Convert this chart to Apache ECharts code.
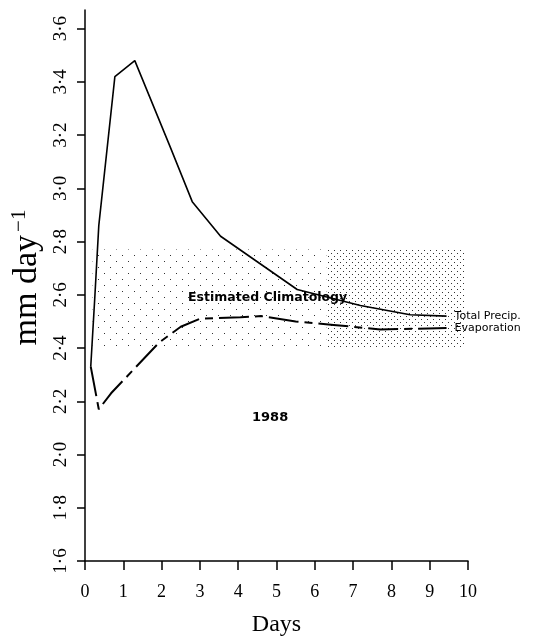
<!DOCTYPE html>
<html><head><meta charset="utf-8">
<script src="https://cdn.jsdelivr.net/npm/echarts@6/dist/echarts.min.js"></script>
<style>html,body{margin:0;padding:0;background:#fff}#c{width:552px;height:642px}</style>
</head><body><div id="c"></div>
<script>
// ---- data ----
const precipDays = [0.15, 0.26, 0.36, 0.78, 1.30, 2.24, 2.80, 3.54, 5.54, 7.19, 8.49, 9.44];
const precipVals = [2.33, 2.60, 2.86, 3.42, 3.48, 3.15, 2.95, 2.82, 2.62, 2.56, 2.525, 2.52];
const evapDays = [0.15, 0.36, 0.68, 1.93, 2.50, 3.00, 4.06, 4.60, 5.50, 6.49, 7.71, 9.44];
const evapVals = [2.33, 2.17, 2.23, 2.42, 2.48, 2.51, 2.516, 2.52, 2.50, 2.487, 2.47, 2.475];
const bandDays = [0.2, 6.3, 9.9];   // climatology band: start, density change, end
const bandRange = [2.40, 2.77];     // climatology band low/high (mm/day)
const xTicks = [0, 10, 1];          // min, max, interval
const yTicks = [1.6, 3.6, 0.2];
const yTop = 3.67;
const labels = { precip: 'Total Precip.', evap: 'Evaporation', clim: 'Estimated Climatology', year: '1988' };

function pattern(size, dots) {
  const c = document.createElement('canvas');
  c.width = c.height = size;
  const ctx = c.getContext('2d');
  ctx.fillStyle = '#333';
  dots.forEach(d => ctx.fillRect(d[0], d[1], 1, 1));
  return c;
}
const sparse = pattern(12, [[2, 3], [8, 9]]);
const dense = pattern(6, [[1, 1], [4, 4]]);

const chart = echarts.init(document.getElementById('c'), null, { renderer: 'canvas' });
const serif = '"Liberation Serif", "DejaVu Serif", serif';
const sans = '"DejaVu Sans", "Liberation Sans", sans-serif';

chart.setOption({
  animation: false,
  backgroundColor: '#fff',
  grid: { left: 85, right: 84, top: 10, bottom: 81, containLabel: false, outerBoundsMode: 'none' },
  xAxis: {
    type: 'value', min: xTicks[0], max: xTicks[1], interval: xTicks[2],
    name: 'Days', nameLocation: 'middle', nameGap: 52,
    nameTextStyle: { fontFamily: serif, fontSize: 24, color: '#000' },
    axisLine: { lineStyle: { color: '#000', width: 1.5 } },
    axisTick: { length: 9, lineStyle: { color: '#000', width: 1.5 } },
    axisLabel: { margin: 22, fontFamily: serif, fontSize: 18, color: '#000' },
    splitLine: { show: false }
  },
  yAxis: {
    type: 'value', min: yTicks[0], max: yTop, interval: yTicks[2],
    name: 'mm day{s|−1}', nameLocation: 'middle', nameGap: 38, nameRotate: 90,
    nameTextStyle: { fontFamily: serif, fontSize: 34, color: '#000', padding: [0, 0, 0, 16],
      rich: { s: { fontFamily: serif, fontSize: 21, verticalAlign: 'top', padding: [0, 0, 16, 3], color: '#000' } } },
    axisLine: { lineStyle: { color: '#000', width: 1.5 } },
    axisTick: { length: 8, lineStyle: { color: '#000', width: 1.5 } },
    axisLabel: { margin: 14, rotate: 90, fontFamily: serif, fontSize: 19, color: '#000',
      showMaxLabel: false,
      formatter: v => (v > yTicks[1] + 1e-6) ? '' : v.toFixed(1).replace('.', '·') },
    splitLine: { show: false }
  },
  series: [
    {
      name: labels.precip, type: 'line', symbol: 'none',
      data: precipDays.map((d, i) => [d, precipVals[i]]),
      lineStyle: { color: '#000', width: 1.6 },
      endLabel: { show: true, formatter: labels.precip, distance: 8, fontFamily: sans, fontSize: 11, color: '#000' },
      markArea: {
        silent: true,
        data: [
          [{ xAxis: bandDays[0], yAxis: bandRange[0], itemStyle: { color: { image: sparse, repeat: 'repeat' } } },
           { xAxis: bandDays[1], yAxis: bandRange[1] }],
          [{ xAxis: bandDays[1], yAxis: bandRange[0], itemStyle: { color: { image: dense, repeat: 'repeat' } } },
           { xAxis: bandDays[2], yAxis: bandRange[1] }]
        ]
      },
      z: 3
    },
    {
      name: labels.evap, type: 'line', symbol: 'none',
      data: evapDays.map((d, i) => [d, evapVals[i]]),
      lineStyle: { color: '#000', width: 2, type: [30, 6, 8, 6] },
      endLabel: { show: true, formatter: labels.evap, distance: 8, fontFamily: sans, fontSize: 11, color: '#000' },
      z: 3
    }
  ],
  graphic: [
    { type: 'text', left: 188, top: 291, style: { text: labels.clim, fontFamily: sans, fontSize: 12.5, fontWeight: 'bold', fill: '#000' } },
    { type: 'text', left: 252, top: 411, style: { text: labels.year, fontFamily: sans, fontSize: 13, fontWeight: 'bold', fill: '#000' } }
  ]
});
</script></body></html>
